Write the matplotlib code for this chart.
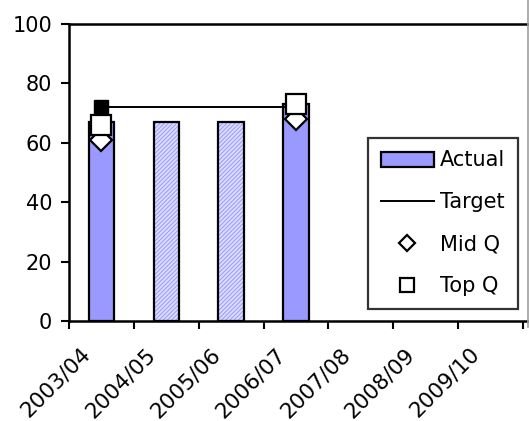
import numpy as np
import matplotlib
matplotlib.use("Agg")
import matplotlib.pyplot as plt
from matplotlib.transforms import ScaledTranslation
from matplotlib.lines import Line2D
from matplotlib.patches import Patch

plt.rcParams['font.family'] = ['DejaVu Sans']
plt.rcParams['hatch.linewidth'] = 0.7

years = ['2003/04', '2004/05', '2005/06', '2006/07', '2007/08', '2008/09', '2009/10']
actual = [67, np.nan, np.nan, 73, np.nan, np.nan, np.nan]
projected = [np.nan, 67, 67, np.nan, np.nan, np.nan, np.nan]
target = [72, 72, 72, 72, np.nan, np.nan, np.nan]
mid_q = [61, np.nan, np.nan, 68, np.nan, np.nan, np.nan]
top_q = [66, np.nan, np.nan, 73, np.nan, np.nan, np.nan]

W, H = 529, 421
fig = plt.figure(figsize=(W / 100, H / 100), dpi=100)
ax = fig.add_axes([69 / W, 1 - 321 / H, (528 - 69) / W, (321 - 24) / H])

x = np.arange(len(years))
bar_w = 0.39
ax.bar(x, actual, width=bar_w, color='#9999ff', edgecolor='black', linewidth=1.6, zorder=2)
ax.bar(x, projected, width=bar_w, color='#dcdcff', edgecolor='#9999ff', hatch='////////',
       linewidth=0, zorder=2)
ax.bar(x, projected, width=bar_w, color='none', edgecolor='black', linewidth=1.6, zorder=2)

ax.plot(x, target, color='black', linewidth=1.4, marker='s', markersize=10,
        markerfacecolor='black', markevery=[0, 3], zorder=3)
ax.plot(x, mid_q, linestyle='none', marker='D', markersize=11, markerfacecolor='white',
        markeredgecolor='black', markeredgewidth=1.6, zorder=4)
ax.plot(x, top_q, linestyle='none', marker='s', markersize=14.5, markerfacecolor='white',
        markeredgecolor='black', markeredgewidth=1.6, zorder=5)

ax.set_ylim(0, 100)
ax.set_xlim(-0.5, 6.5 + 5 / 65)
ax.set_yticks(np.arange(0, 101, 20))
ax.set_xticks(x)
ax.set_xticklabels(years, rotation=45, ha='right', va='center', rotation_mode='anchor')
ax.set_xticks(np.arange(-0.5, 6.6, 1.0), minor=True)
ax.tick_params(axis='x', which='major', length=0, pad=0, labelsize=15.5)
ax.tick_params(axis='x', which='minor', length=6, width=1.5, direction='out')
ax.tick_params(axis='y', length=6, width=1.5, direction='out', labelsize=15, pad=6)

offset = ScaledTranslation(-14 / 100, -30 / 100, fig.dpi_scale_trans)
for lbl in ax.get_xticklabels():
    lbl.set_transform(lbl.get_transform() + offset)

for side in ['left', 'bottom', 'top']:
    ax.spines[side].set_linewidth(1.8)
ax.spines['right'].set_visible(False)

fig.add_artist(Line2D([527.5 / W, 527.5 / W], [1 - 327 / H, 1 - 0 / H],
                      color='#a0a0a0', linewidth=1.2, transform=fig.transFigure))

handles = [
    Patch(facecolor='#9999ff', edgecolor='black', linewidth=1.6),
    Line2D([], [], color='black', linewidth=1.4),
    Line2D([], [], linestyle='none', marker='D', markersize=8, markerfacecolor='white',
           markeredgecolor='black', markeredgewidth=1.6),
    Line2D([], [], linestyle='none', marker='s', markersize=9.5, markerfacecolor='white',
           markeredgecolor='black', markeredgewidth=1.6),
]
leg = fig.legend(handles, ['Actual', 'Target', 'Mid Q', 'Top Q'],
                 loc='upper left', bbox_to_anchor=(368 / W, 1 - 138 / H),
                 fontsize=15, frameon=True, fancybox=False, edgecolor='black',
                 handlelength=2.55, handleheight=0.75, handletextpad=0.3,
                 labelspacing=1.05, borderpad=0.6, borderaxespad=0)
leg.get_frame().set_linewidth(1.6)

fig.savefig('out.png', dpi=100)
